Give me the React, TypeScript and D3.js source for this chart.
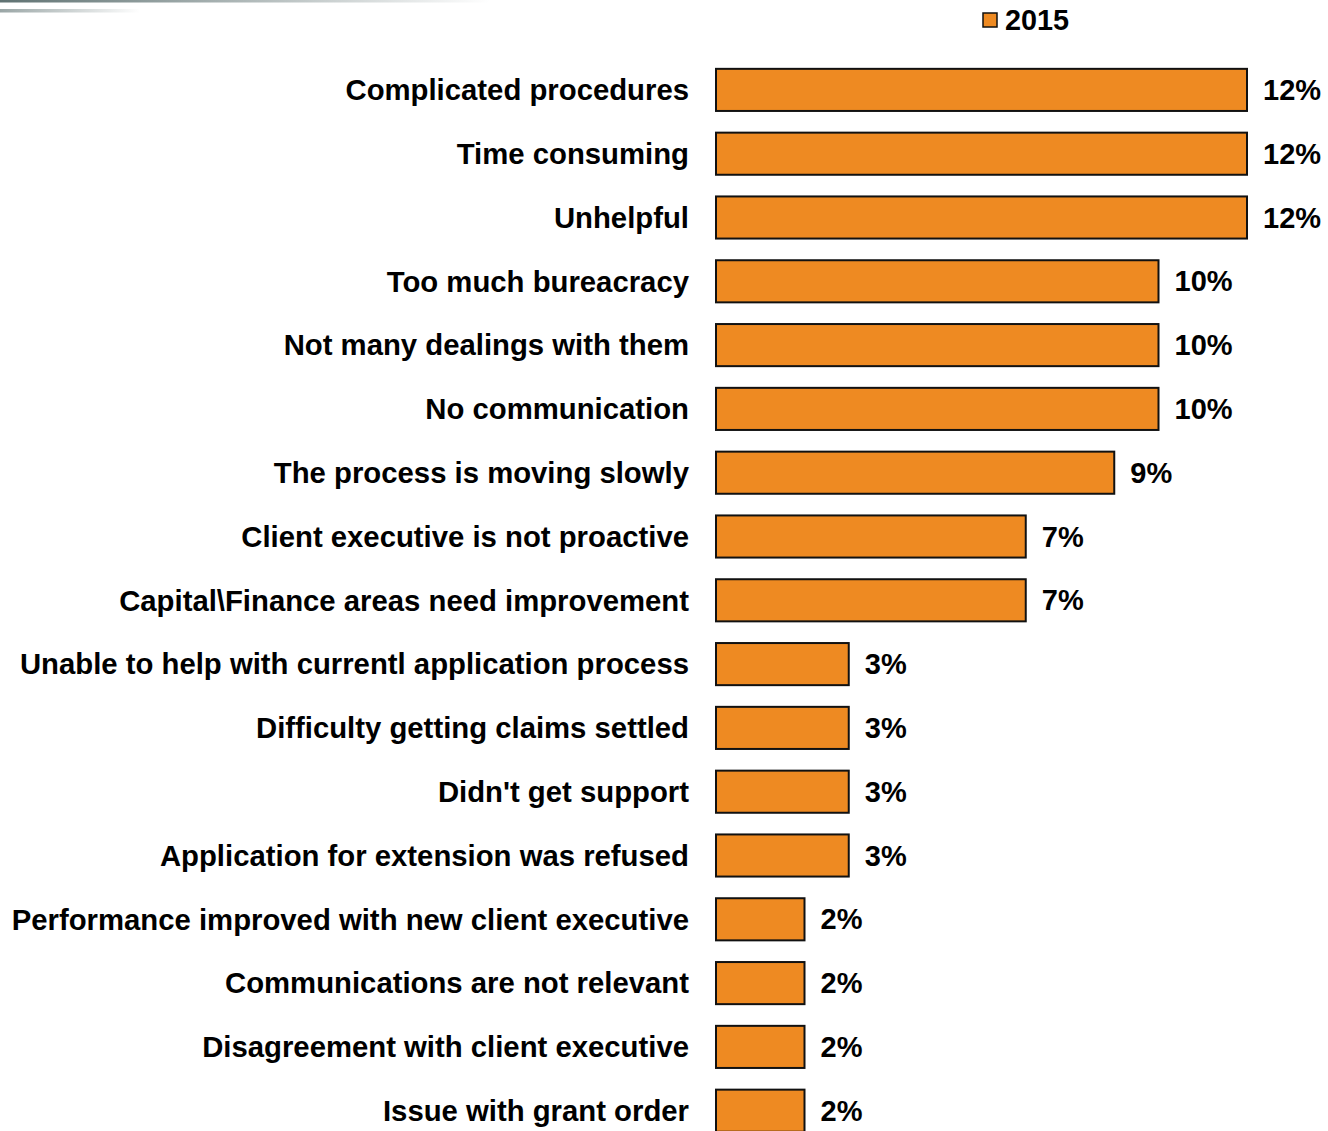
import { useEffect, useRef } from 'react'
import * as d3 from 'd3'

const categories = [
  'Complicated procedures',
  'Time consuming',
  'Unhelpful',
  'Too much bureacracy',
  'Not many dealings with them',
  'No communication',
  'The process is moving slowly',
  'Client executive is not proactive',
  'Capital\\Finance areas need improvement',
  'Unable to help with currentl application process',
  'Difficulty getting claims settled',
  "Didn't get support",
  'Application for extension was refused',
  'Performance improved with new client executive',
  'Communications are not relevant',
  'Disagreement with client executive',
  'Issue with grant order',
]
const values2015 = [12, 12, 12, 10, 10, 10, 9, 7, 7, 3, 3, 3, 3, 2, 2, 2, 2]
const seriesName = '2015'

const W = 1328
const H = 1131
const FONT = '"Liberation Sans", Arial, sans-serif'
const ORANGE = '#EE8A22'

export default function App() {
  const ref = useRef<SVGSVGElement>(null)

  useEffect(() => {
    if (!ref.current) return
    const svg = d3.select(ref.current)
    svg.selectAll('*').remove()

    // decorative gradient lines at the top
    const defs = svg.append('defs')
    const g1 = defs.append('linearGradient').attr('id', 'fade1')
    g1.append('stop').attr('offset', '0%').attr('stop-color', '#5f7272')
    g1.append('stop').attr('offset', '100%').attr('stop-color', '#ffffff')
    const g2 = defs.append('linearGradient').attr('id', 'fade2')
    g2.append('stop').attr('offset', '0%').attr('stop-color', '#9aa6a6')
    g2.append('stop').attr('offset', '100%').attr('stop-color', '#ffffff')
    svg.append('rect').attr('x', 0).attr('y', 0).attr('width', 490).attr('height', 2.5).attr('fill', 'url(#fade1)')
    svg.append('rect').attr('x', 0).attr('y', 9).attr('width', 140).attr('height', 3.5).attr('fill', 'url(#fade2)')

    const x = d3.scaleLinear().domain([0, 12]).range([716, 1247])
    const y = d3.scaleBand<string>()
      .domain(categories)
      .range([58, 58 + categories.length * 63.8])
      .paddingInner(0.34)
      .paddingOuter(0.17)

    const data = categories.map((c, i) => ({ c, v: values2015[i] }))

    svg.selectAll('.bar')
      .data(data)
      .enter()
      .append('rect')
      .attr('class', 'bar')
      .attr('x', x(0))
      .attr('y', d => y(d.c) || 0)
      .attr('width', d => x(d.v) - x(0))
      .attr('height', y.bandwidth())
      .attr('fill', ORANGE)
      .attr('stroke', '#111')
      .attr('stroke-width', 2)

    svg.selectAll('.cat')
      .data(data)
      .enter()
      .append('text')
      .attr('class', 'cat')
      .attr('x', 689)
      .attr('y', d => (y(d.c) || 0) + y.bandwidth() / 2)
      .attr('dy', '0.35em')
      .attr('text-anchor', 'end')
      .style('font-family', FONT)
      .style('font-weight', 'bold')
      .style('font-size', '29.3px')
      .attr('fill', '#000')
      .text(d => d.c)

    svg.selectAll('.val')
      .data(data)
      .enter()
      .append('text')
      .attr('class', 'val')
      .attr('x', d => x(d.v) + 16)
      .attr('y', d => (y(d.c) || 0) + y.bandwidth() / 2)
      .attr('dy', '0.35em')
      .style('font-family', FONT)
      .style('font-weight', 'bold')
      .style('font-size', '29px')
      .attr('fill', '#000')
      .text(d => `${d.v}%`)

    // legend
    const legend = svg.append('g').attr('transform', 'translate(983, 13)')
    legend.append('rect')
      .attr('width', 14)
      .attr('height', 14)
      .attr('fill', ORANGE)
      .attr('stroke', '#111')
      .attr('stroke-width', 1.5)
    legend.append('text')
      .attr('x', 22)
      .attr('y', 7)
      .attr('dy', '0.35em')
      .style('font-family', FONT)
      .style('font-weight', 'bold')
      .style('font-size', '28.8px')
      .text(seriesName)
  }, [])

  return (
    <svg
      ref={ref}
      width={W}
      height={H}
      style={{ position: 'absolute', left: 0, top: 0, background: '#fff' }}
    />
  )
}
